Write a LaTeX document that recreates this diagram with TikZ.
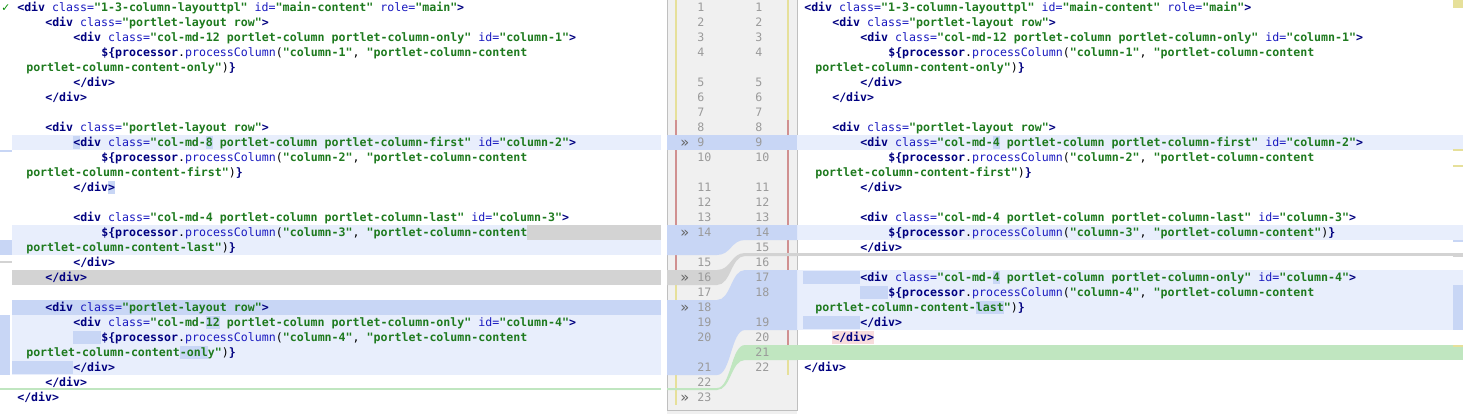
\documentclass[tikz,border=0pt]{standalone}
\usepackage{fontspec}
\newfontfamily\codefont{DejaVu Sans Mono}
\newfontfamily\symfont{DejaVu Sans}
\definecolor{tagc}{HTML}{000080}
\definecolor{attc}{HTML}{1A1AC0}
\definecolor{valc}{HTML}{1E7A1E}
\definecolor{bandl}{HTML}{E8EEFC}
\definecolor{bandd}{HTML}{C8D6F5}
\definecolor{grayb}{HTML}{D3D3D3}
\definecolor{greenb}{HTML}{C0E6C0}
\definecolor{gutc}{HTML}{F0F0F0}
\definecolor{numc}{HTML}{9A9A9A}
\definecolor{ylw}{HTML}{E6E09A}
\definecolor{redl}{HTML}{D09090}
\definecolor{pinkb}{HTML}{F8DCDC}
\newcommand\cTag[1]{\textcolor{tagc}{\bfseries #1}}
\newcommand\cAtt[1]{\textcolor{attc}{#1}}
\newcommand\cVal[1]{\textcolor{valc}{\bfseries #1}}
\newcommand\dopen[2]{\cTag{<div} \cAtt{class=}\cVal{"#1"}#2\cTag{>}}
\newcommand\dId[1]{ \cAtt{id=}\cVal{"#1"}}
\newcommand\proc[1]{\cTag{\$\{processor}.\cAtt{processColumn}(\cVal{"#1"}, \cVal{"portlet-column-content}}
\newcommand\wrapl[1]{\cVal{portlet-column-content-#1"})\cTag{\}}}
\newcommand\cdiv{\cTag{</div>}}
\begin{document}
\begin{tikzpicture}[x=0.75pt,y=-0.75pt,
  code/.style={anchor=base west,inner sep=0,font=\codefont\fontsize{8.7}{10}\selectfont},
  num/.style={anchor=base west,inner sep=0,text=numc,font=\codefont\fontsize{8.7}{10}\selectfont}]
\useasboundingbox (0,0) rectangle (1463,414);
\fill[white] (0,0) rectangle (1463,414);
% gutter
\fill[gutc] (667,0) rectangle (797,414);
\draw[gray!50] (667,0) -- (667,410) -- (797,410) -- (797,0);
% change bars
\draw[ylw,line width=1.5pt] (676,0) -- (676,120);
\draw[redl,line width=1.5pt] (676,120) -- (676,270);
\draw[ylw,line width=1.5pt] (676,270) -- (676,405);
\draw[ylw,line width=1.5pt] (788,0) -- (788,120);
\draw[redl,line width=1.5pt] (788,120) -- (788,345);
\draw[ylw,line width=1.5pt] (788,345) -- (788,375);
% left bands
\fill[bandl] (12,135) rectangle (661,150);
\fill[bandd] (73,136) rectangle (80,149);
\fill[bandd] (206,136) rectangle (213,149);
\fill[bandd] (108,181) rectangle (115,194);
\fill[bandl] (12,225) rectangle (661,255);
\fill[grayb] (527,225) rectangle (661,240);
\fill[grayb] (12,270) rectangle (661,285);
\fill[bandd] (12,300) rectangle (661,315);
\fill[bandl] (12,315) rectangle (661,375);
\fill[bandd] (206,316) rectangle (220,329);
\fill[bandd] (73,331) rectangle (101,344);
\fill[bandd] (180,346) rectangle (208,359);
\fill[bandd] (12,361) rectangle (73,374);
\fill[greenb] (12,388) rectangle (661,390);
% left margin marks
\fill[bandd] (0,150) rectangle (12,152);
\fill[bandd] (0,240) rectangle (12,255);
\fill[grayb] (0,261) rectangle (12,263);
\fill[bandd] (0,315) rectangle (10,375);
\fill[greenb] (0,388) rectangle (12,390);
% right bands
\fill[bandl] (797,135) rectangle (1463,150);
\fill[bandd] (993,136) rectangle (1000,149);
\fill[bandl] (797,225) rectangle (1463,240);
\fill[grayb] (797,253) rectangle (1463,256);
\fill[bandl] (797,270) rectangle (1463,330);
\fill[bandd] (803,271) rectangle (860,284);
\fill[bandd] (993,271) rectangle (1000,284);
\fill[bandd] (860,286) rectangle (888,299);
\fill[bandd] (976,301) rectangle (1004,314);
\fill[bandd] (803,316) rectangle (860,329);
\fill[pinkb] (832,331) rectangle (874,344);
\fill[greenb] (797,345) rectangle (1463,360);
% right edge marks
\fill[ylw] (1453,0) rectangle (1463,8);
\fill[ylw] (1453,149) rectangle (1463,151);
\fill[ylw] (1453,165) rectangle (1463,167);
\fill[bandd] (1453,240) rectangle (1463,242);
\fill[grayb] (1453,255) rectangle (1463,257);
\fill[bandd] (1453,285) rectangle (1463,330);
\fill[ylw] (1453,345) rectangle (1463,347);
% gutter connectors
\fill[bandd] (667,135) rectangle (797,150);
\fill[bandd] (667,225) -- (797,225) -- (797,240) -- (745,240) .. controls (731,240) and (731,255) .. (717,255) -- (667,255) -- cycle;
\fill[grayb] (667,270) -- (717,270) .. controls (731,270) and (731,253) .. (745,253) -- (797,253) -- (797,256) -- (745,256) .. controls (731,256) and (731,285) .. (717,285) -- (667,285) -- cycle;
\fill[bandd] (667,300) -- (717,300) .. controls (731,300) and (731,270) .. (745,270) -- (797,270) -- (797,330) -- (745,330) .. controls (731,330) and (731,375) .. (717,375) -- (667,375) -- cycle;
\fill[greenb] (667,388) -- (717,388) .. controls (731,388) and (731,345) .. (745,345) -- (797,345) -- (797,360) -- (745,360) .. controls (731,360) and (731,390) .. (717,390) -- (667,390) -- cycle;
% check mark
\node[anchor=base west,inner sep=0,font=\symfont\fontsize{8}{9}\selectfont,text=green!55!black] (chk) at (1,11.5) {✓};
% line numbers
\foreach \r/\n in {1/1,2/2,3/3,4/4,6/5,7/6,8/7,9/8,10/9,11/10,13/11,14/12,15/13,16/14,18/15,19/16,20/17,21/18,22/19,23/20,25/21,26/22,27/23}
  \node[num] (ln\n) at (697,15*\r-3.5) {\n};
\foreach \r/\n in {1/1,2/2,3/3,4/4,6/5,7/6,8/7,9/8,10/9,11/10,13/11,14/12,15/13,16/14,17/15,18/16,19/17,20/18,22/19,23/20,24/21,25/22}
  \node[num] (rn\n) at (755,15*\r-3.5) {\n};
\foreach \r in {10,16,19,21,27}
  \node[anchor=base west,inner sep=0,text=gray!80!black,font=\symfont\fontsize{11}{12}\selectfont] (ch\r) at (680,15*\r-3) {»};
% left code
\node[code] (l1) at (17,11.5) {\cTag{<div} \cAtt{class=}\cVal{"1-3-column-layouttpl"} \cAtt{id=}\cVal{"main-content"} \cAtt{role=}\cVal{"main"}\cTag{>}};
\node[code] (l2) at (45,26.5) {\dopen{portlet-layout row}{}};
\node[code] (l3) at (73,41.5) {\dopen{col-md-12 portlet-column portlet-column-only}{\dId{column-1}}};
\node[code] (l4) at (101,56.5) {\proc{column-1}};
\node[code] (l5) at (26,71.5) {\wrapl{only}};
\node[code] (l6) at (73,86.5) {\cdiv};
\node[code] (l7) at (45,101.5) {\cdiv};
\node[code] (l9) at (45,131.5) {\dopen{portlet-layout row}{}};
\node[code] (l10) at (73,146.5) {\dopen{col-md-8 portlet-column portlet-column-first}{\dId{column-2}}};
\node[code] (l11) at (101,161.5) {\proc{column-2}};
\node[code] (l12) at (26,176.5) {\wrapl{first}};
\node[code] (l13) at (73,191.5) {\cdiv};
\node[code] (l15) at (73,221.5) {\dopen{col-md-4 portlet-column portlet-column-last}{\dId{column-3}}};
\node[code] (l16) at (101,236.5) {\proc{column-3}};
\node[code] (l17) at (26,251.5) {\wrapl{last}};
\node[code] (l18) at (73,266.5) {\cdiv};
\node[code] (l19) at (45,281.5) {\cdiv};
\node[code] (l21) at (45,311.5) {\dopen{portlet-layout row}{}};
\node[code] (l22) at (73,326.5) {\dopen{col-md-12 portlet-column portlet-column-only}{\dId{column-4}}};
\node[code] (l23) at (101,341.5) {\proc{column-4}};
\node[code] (l24) at (26,356.5) {\wrapl{only}};
\node[code] (l25) at (73,371.5) {\cdiv};
\node[code] (l26) at (45,386.5) {\cdiv};
\node[code] (l27) at (17,401.5) {\cdiv};
% right code
\node[code] (r1) at (804,11.5) {\cTag{<div} \cAtt{class=}\cVal{"1-3-column-layouttpl"} \cAtt{id=}\cVal{"main-content"} \cAtt{role=}\cVal{"main"}\cTag{>}};
\node[code] (r2) at (832,26.5) {\dopen{portlet-layout row}{}};
\node[code] (r3) at (860,41.5) {\dopen{col-md-12 portlet-column portlet-column-only}{\dId{column-1}}};
\node[code] (r4) at (888,56.5) {\proc{column-1}};
\node[code] (r5) at (815,71.5) {\wrapl{only}};
\node[code] (r6) at (860,86.5) {\cdiv};
\node[code] (r7) at (832,101.5) {\cdiv};
\node[code] (r9) at (832,131.5) {\dopen{portlet-layout row}{}};
\node[code] (r10) at (860,146.5) {\dopen{col-md-4 portlet-column portlet-column-first}{\dId{column-2}}};
\node[code] (r11) at (888,161.5) {\proc{column-2}};
\node[code] (r12) at (815,176.5) {\wrapl{first}};
\node[code] (r13) at (860,191.5) {\cdiv};
\node[code] (r15) at (860,221.5) {\dopen{col-md-4 portlet-column portlet-column-last}{\dId{column-3}}};
\node[code] (r16) at (888,236.5) {\proc{column-3}\cVal{"})\cTag{\}}};
\node[code] (r17) at (860,251.5) {\cdiv};
\node[code] (r19) at (860,281.5) {\dopen{col-md-4 portlet-column portlet-column-only}{\dId{column-4}}};
\node[code] (r20) at (888,296.5) {\proc{column-4}};
\node[code] (r21) at (815,311.5) {\wrapl{last}};
\node[code] (r22) at (860,326.5) {\cdiv};
\node[code] (r23) at (832,341.5) {\cdiv};
\node[code] (r25) at (804,371.5) {\cdiv};
\end{tikzpicture}
\end{document}
